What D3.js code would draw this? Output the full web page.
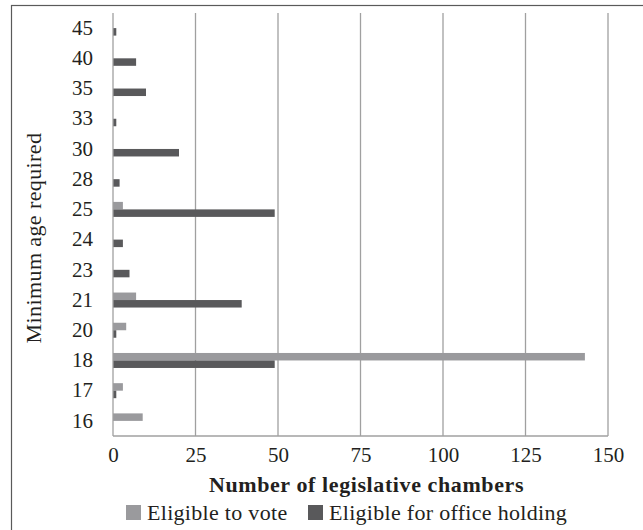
<!DOCTYPE html>
<html>
<head>
<meta charset="utf-8">
<script src="https://cdn.jsdelivr.net/npm/d3@7"></script>
<style>
  body { margin: 0; background: #fff; }
  svg text { font-family: "Liberation Serif", "DejaVu Serif", serif; fill: #231f20; }
</style>
</head>
<body>
<svg id="chart" width="643" height="530"></svg>
<script>
// minimum ages, bottom to top as drawn
const ages = ['16', '17', '18', '20', '21', '23', '24', '25', '28', '30', '33', '35', '40', '45'];
const voteCounts = [9, 3, 143, 4, 7, 0, 0, 3, 0, 0, 0, 0, 0, 0];
const officeCounts = [0, 1, 49, 1, 39, 5, 3, 49, 2, 20, 1, 10, 7, 1];
const xTicks = [0, 25, 50, 75, 100, 125, 150];
const seriesNames = ['Eligible to vote', 'Eligible for office holding'];
const seriesColors = ['#9a9a9d', '#59595b'];

const svg = d3.select('#chart');
const margin = { top: 13, right: 35, bottom: 94, left: 113 };
const width = 643 - margin.left - margin.right;
const height = 530 - margin.top - margin.bottom;

// outer frame
svg.append('rect')
    .attr('x', 11.5).attr('y', 5.5)
    .attr('width', 640).attr('height', 540)
    .attr('fill', 'none')
    .attr('stroke', '#5a5a5a')
    .attr('stroke-width', 1.2);

const g = svg.append('g')
    .attr('transform', `translate(${margin.left},${margin.top})`);

const x = d3.scaleLinear().domain([0, 150]).range([0, width]);
const y = d3.scaleBand().domain(ages.slice().reverse()).range([0, height]);
const inner = d3.scaleBand().domain([0, 1]).range([y.bandwidth() / 2 - 7.5, y.bandwidth() / 2 + 7.5]);

// vertical gridlines
g.selectAll('.grid')
    .data(xTicks.slice(1))
    .join('line')
    .attr('x1', d => x(d)).attr('x2', d => x(d))
    .attr('y1', 0).attr('y2', height)
    .attr('stroke', '#a0a0a0')
    .attr('stroke-width', 1.3);

const rows = ages.map((age, i) => ({ age, values: [voteCounts[i], officeCounts[i]] }));

const rowG = g.selectAll('.row')
    .data(rows)
    .join('g')
    .attr('transform', d => `translate(0,${y(d.age)})`);

rowG.selectAll('rect')
    .data(d => d.values.map((v, k) => ({ v, k })))
    .join('rect')
    .attr('x', 0)
    .attr('y', d => inner(d.k))
    .attr('width', d => x(d.v))
    .attr('height', inner.bandwidth())
    .attr('fill', d => seriesColors[d.k]);

// axis lines
g.append('line')
    .attr('x1', 0).attr('x2', 0).attr('y1', 0).attr('y2', height)
    .attr('stroke', '#a0a0a0').attr('stroke-width', 1.3);
g.append('line')
    .attr('x1', 0).attr('x2', width).attr('y1', height).attr('y2', height)
    .attr('stroke', '#a0a0a0').attr('stroke-width', 1.3);

// tick labels
const xAxis = g.append('g')
    .attr('transform', `translate(0,${height})`)
    .call(d3.axisBottom(x).tickValues(xTicks).tickSize(0).tickPadding(11));
xAxis.select('.domain').remove();
xAxis.selectAll('text').style('font-size', '21px').attr('fill', '#231f20');

const yAxis = g.append('g')
    .call(d3.axisLeft(y).tickSize(0).tickPadding(20));
yAxis.select('.domain').remove();
yAxis.selectAll('text').style('font-size', '21px').attr('fill', '#231f20');

// axis titles
svg.append('text')
    .attr('x', margin.left + width / 2 + 6)
    .attr('y', 484)
    .attr('dy', '0.35em')
    .attr('text-anchor', 'middle')
    .style('font-size', '22px')
    .style('letter-spacing', '0.6px')
    .style('font-weight', 'bold')
    .text('Number of legislative chambers');

svg.append('text')
    .attr('transform', 'translate(33,238) rotate(-90)')
    .attr('dy', '0.35em')
    .attr('text-anchor', 'middle')
    .style('font-size', '22px')
    .style('letter-spacing', '0.4px')
    .text('Minimum age required');

// legend
const legend = svg.append('g').attr('transform', 'translate(126,512)');
const legendX = [0, 182];
seriesNames.forEach((name, k) => {
    const item = legend.append('g').attr('transform', `translate(${legendX[k]},0)`);
    item.append('rect')
        .attr('x', 0).attr('y', -7)
        .attr('width', 15).attr('height', 15)
        .attr('fill', seriesColors[k]);
    item.append('text')
        .attr('x', 21).attr('y', 0)
        .attr('dy', '0.35em')
        .style('font-size', '22px')
        .style('letter-spacing', '0.3px')
        .text(name);
});
</script>
</body>
</html>
